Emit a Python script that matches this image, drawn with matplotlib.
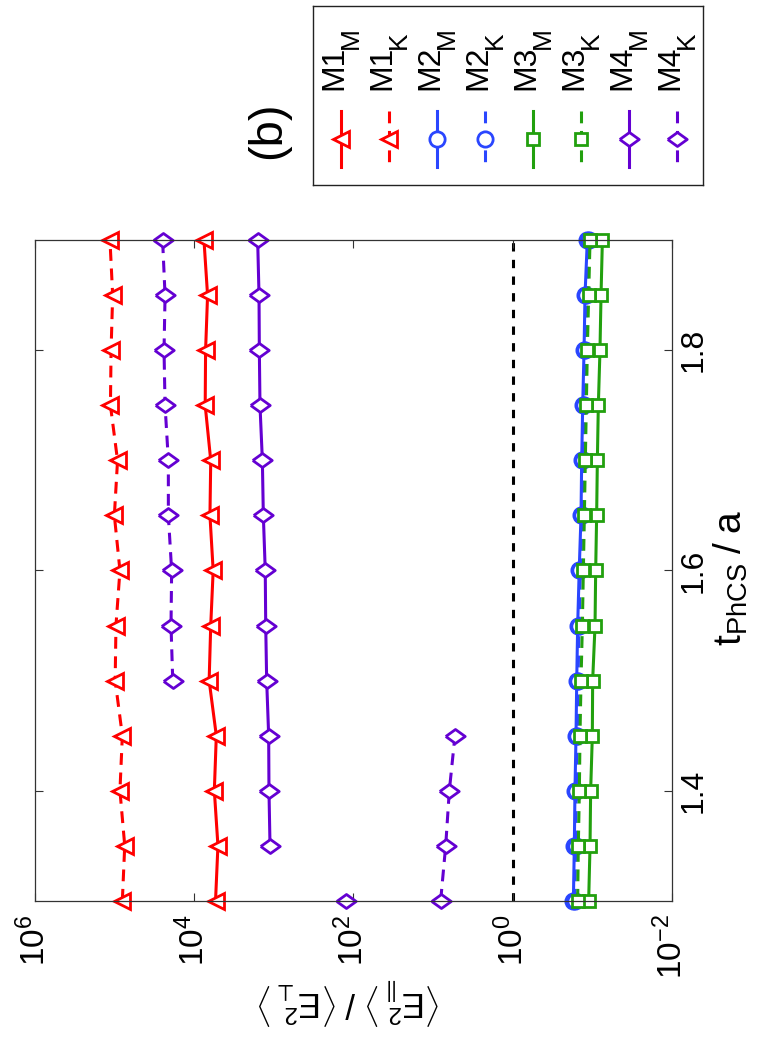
import matplotlib
matplotlib.use("Agg")
import matplotlib.pyplot as plt
import numpy as np

plt.rcParams['font.family'] = ['Liberation Sans', 'DejaVu Sans']
plt.rcParams['mathtext.fontset'] = 'custom'
plt.rcParams['mathtext.rm'] = 'Liberation Sans'
plt.rcParams['mathtext.it'] = 'Liberation Sans:italic'
plt.rcParams['mathtext.bf'] = 'Liberation Sans:bold'
plt.rcParams['lines.scale_dashes'] = False

# ---------------- data ----------------
t = [1.30, 1.35, 1.40, 1.45, 1.50, 1.55, 1.60, 1.65, 1.70, 1.75, 1.80, 1.85, 1.90]

m1_M = [5370, 5010, 5560, 5250, 6460, 6170, 5750, 6310, 6170, 7240, 7160, 6760, 7500]
m1_K = [79400, 74100, 85100, 79400, 97700, 95500, 85100, 100000, 91200, 112000, 110000, 105000, 113500]
m2_M = [0.1730, 0.1683, 0.1652, 0.1603, 0.1570, 0.1528, 0.1462, 0.1387, 0.1361, 0.1321, 0.1271, 0.1236, 0.1156]
m2_K = [0.1660, 0.1620, 0.1590, 0.1545, 0.1510, 0.1470, 0.1410, 0.1340, 0.1315, 0.1275, 0.1225, 0.1190, 0.1115]
m3_M = [0.1112, 0.1069, 0.1050, 0.1000, 0.0991, 0.0925, 0.0908, 0.0883, 0.0865, 0.0841, 0.0802, 0.0778, 0.0748]
m3_K = [0.1528, 0.1500, 0.1455, 0.1429, 0.1387, 0.1334, 0.1297, 0.1259, 0.1225, 0.1189, 0.1156, 0.1112, 0.1069]

t_m4_M = [1.35, 1.40, 1.45, 1.50, 1.55, 1.60, 1.65, 1.70, 1.75, 1.80, 1.85, 1.90]
m4_M = [1112, 1146, 1156, 1225, 1259, 1276, 1349, 1387, 1486, 1514, 1528, 1589]
t_m4_single = [1.30]
m4_single = [124]
t_m4_K_a = [1.30, 1.35, 1.40, 1.45]
m4_K_a = [8.02, 6.93, 6.24, 5.30]
t_m4_K_b = [1.50, 1.55, 1.60, 1.65, 1.70, 1.75, 1.80, 1.85, 1.90]
m4_K_b = [18500, 19450, 19100, 21000, 21000, 23100, 23800, 23100, 24800]

ref_level = 1.0

legend_main = ['M1', 'M1', 'M2', 'M2', 'M3', 'M3', 'M4', 'M4']
legend_sub = ['M', 'K', 'M', 'K', 'M', 'K', 'M', 'K']

log_ticks = [1e6, 1e4, 1e2, 1e0, 1e-2]
log_tick_labels = [r'$10^{6}$', r'$10^{4}$', r'$10^{2}$', r'$10^{0}$', r'$10^{-2}$']
t_ticks = [1.4, 1.6, 1.8]
t_tick_labels = ['1.4', '1.6', '1.8']

# ---------------- styles ----------------
RED = '#ff0000'
BLUE = '#2a46ff'
GREEN = '#22a00e'
PURPLE = '#6400d2'
LW = 2.2
MEW = 2.0
DASH = (0, (8.5, 5.5))

# wide diamond (figure is drawn rotated)
diamond = [(-1, 0), (0, 0.72), (1, 0), (0, -0.72), (-1, 0)]

styles = [
    dict(color=RED, ls='-', marker='<', ms=11),
    dict(color=RED, ls=DASH, marker='<', ms=11),
    dict(color=BLUE, ls='-', marker='o', ms=11),
    dict(color=BLUE, ls=DASH, marker='o', ms=11),
    dict(color=GREEN, ls='-', marker='s', ms=9),
    dict(color=GREEN, ls=DASH, marker='s', ms=9),
    dict(color=PURPLE, ls='-', marker=diamond, ms=14),
    dict(color=PURPLE, ls=DASH, marker=diamond, ms=14),
]

W, H = 782, 1041
fig = plt.figure(figsize=(W / 100, H / 100), dpi=100)

ax_l, ax_r, ax_t, ax_b = 34.7, 672.0, 240.3, 900.7
ax = fig.add_axes([ax_l / W, 1 - ax_b / H, (ax_r - ax_l) / W, (ax_b - ax_t) / H])

def draw(x, y, st):
    ax.plot(x, y, color=st['color'], ls=st['ls'], lw=LW, marker=st['marker'],
            ms=st['ms'], mew=MEW, mfc='white', mec=st['color'], clip_on=False)

draw(m1_M, t, styles[0])
draw(m1_K, t, styles[1])
draw(m2_M, t, styles[2])
draw(m2_K, t, styles[3])
draw(m3_M, t, styles[4])
draw(m3_K, t, styles[5])
draw(m4_M, t_m4_M, styles[6])
draw(m4_single, t_m4_single, styles[6])
draw(m4_K_a, t_m4_K_a, styles[7])
draw(m4_K_b, t_m4_K_b, styles[7])

ax.axvline(ref_level, color='black', lw=2.2, ls=(0, (6, 6)), zorder=1)

ax.set_xscale('log')
ax.set_xlim(1e6, 1e-2)
ax.set_ylim(1.3, 1.9)
ax.xaxis.set_minor_locator(matplotlib.ticker.NullLocator())
ax.set_xticks(log_ticks)
ax.set_xticklabels(log_tick_labels, rotation=90, fontsize=24)
ax.set_yticks(t_ticks)
ax.set_yticklabels(t_tick_labels, rotation=90, fontsize=23, va='center')
ax.tick_params(axis='both', which='both', direction='in', length=6, width=0.8,
               top=True, bottom=True, left=True, right=True,
               labelleft=False, labelright=True, color='#333333')
ax.tick_params(axis='x', pad=10)
ax.tick_params(axis='y', pad=5)
for s in ax.spines.values():
    s.set_color('#333333')
    s.set_linewidth(0.9)

# axis titles (drawn in the rotated layout)
fig.text(350 / W, 1 - 993 / H,
         r'$\langle\mathrm{E}^{2}_{\parallel}\rangle\;/\;\langle\mathrm{E}^{2}_{\perp}\rangle$',
         rotation=180, rotation_mode='anchor', fontsize=25, ha='center', va='baseline')
fig.text(742 / W, 1 - 578 / H, r'$\mathrm{t}_{\mathrm{PhCS}}\;/\;\mathrm{a}$',
         rotation=90, rotation_mode='anchor', fontsize=28, ha='center', va='baseline')

fig.text(268 / W, 1 - 130 / H, '(b)', rotation=90, fontsize=34, ha='center', va='center')

# ---------------- legend (rotated layout) ----------------
lg_l, lg_r, lg_t, lg_b = 313, 703, 6, 185
lax = fig.add_axes([lg_l / W, 1 - lg_b / H, (lg_r - lg_l) / W, (lg_b - lg_t) / H])
lax.set_xlim(lg_l, lg_r)
lax.set_ylim(lg_b, lg_t)
lax.set_xticks([])
lax.set_yticks([])
for s in lax.spines.values():
    s.set_color('#222222')
    s.set_linewidth(1.0)

for i, (lab, sub, st) in enumerate(zip(legend_main, legend_sub, styles)):
    xc = 340.7 + 48 * i
    lax.plot([xc, xc], [111, 167], color=st['color'], ls=st['ls'], lw=LW)
    lax.plot([xc], [139], ls='none', marker=st['marker'], ms=st['ms'], mew=MEW,
             mfc='white', mec=st['color'])
    tm = lax.text(xc + 1.5, 90, lab, rotation=90, rotation_mode='anchor',
                  fontsize=23, ha='left', va='baseline')
    lax.text(xc + 17, 49, sub, rotation=90, rotation_mode='anchor',
             fontsize=19, ha='left', va='baseline')

fig.savefig('out.png', dpi=100)
